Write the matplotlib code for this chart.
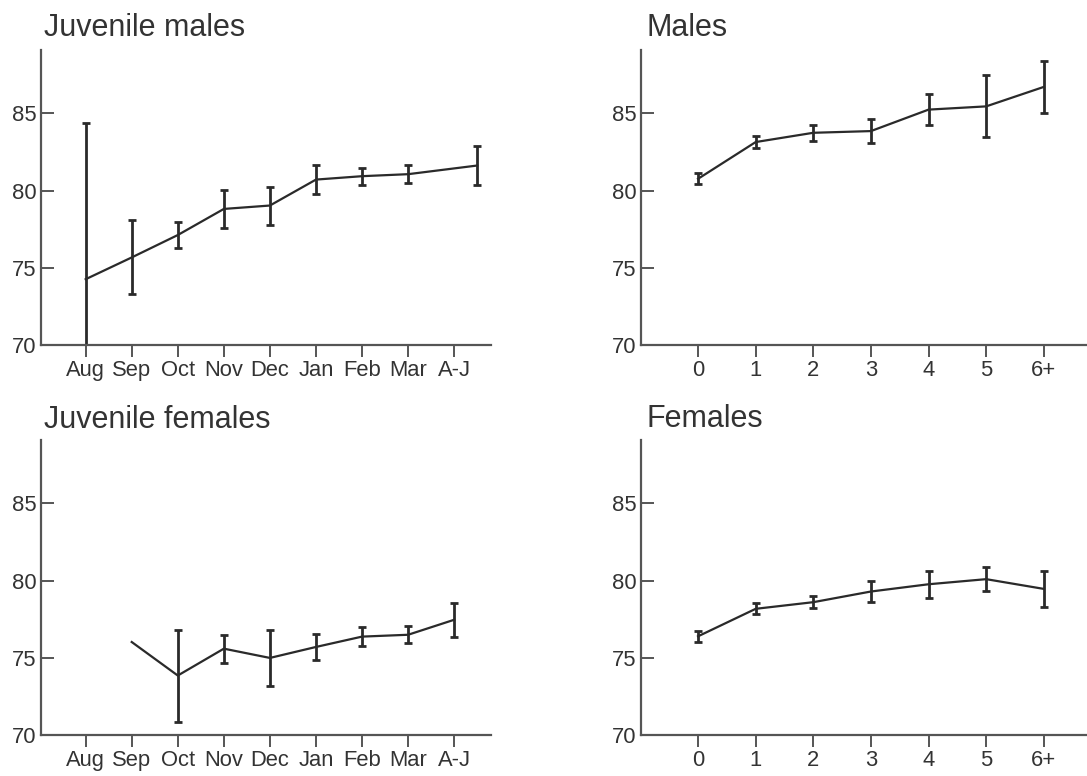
import numpy as np
import matplotlib
matplotlib.use('Agg')
from matplotlib import pyplot as plt

plt.rcParams['font.family'] = ['Liberation Sans', 'DejaVu Sans']

# Datos
months = ['Aug', 'Sep', 'Oct', 'Nov', 'Dec', 'Jan', 'Feb', 'Mar', 'A-J']
ages = ['0', '1', '2', '3', '4', '5', '6+']

juv_males_mean = [74.26, 75.67, 77.12, 78.81, 79.03, 80.71, 80.93, 81.06, 81.62]
juv_males_err = [10.1, 2.4, 0.87, 1.25, 1.23, 0.93, 0.55, 0.57, 1.25]

juv_females_mean = [np.nan, 76.02, 73.85, 75.59, 74.99, 75.70, 76.37, 76.49, 77.46]
juv_females_err = [np.nan, np.nan, 2.98, 0.91, 1.80, 0.86, 0.60, 0.54, 1.10]

males_mean = [80.76, 83.14, 83.74, 83.85, 85.24, 85.45, 86.71]
males_err = [0.35, 0.39, 0.52, 0.77, 0.98, 2.00, 1.67]

females_mean = [76.39, 78.17, 78.60, 79.29, 79.76, 80.09, 79.46]
females_err = [0.34, 0.36, 0.40, 0.70, 0.87, 0.78, 1.15]

AXIS_COLOR = '#555555'
LINE_COLOR = '#2a2a2a'
TEXT_COLOR = '#333333'


def panel(ax, labels, mean, err, xlim, last_shift=0.0):
    x = np.arange(len(labels), dtype=float)
    x[-1] += last_shift  # en "Juvenile males" el ultimo punto esta corrido
    mean = np.array(mean, dtype=float)
    err = np.array(err, dtype=float)

    ok = ~np.isnan(mean)
    ax.plot(x[ok], mean[ok], color=LINE_COLOR, lw=1.6)
    has_err = ok & ~np.isnan(err)
    ax.errorbar(x[has_err], mean[has_err], yerr=err[has_err], fmt='none',
                ecolor=LINE_COLOR, elinewidth=2.0, capsize=3.2, capthick=2.0)

    ax.set_xlim(*xlim)
    ax.set_ylim(70, 89.1)
    ax.set_yticks([70, 75, 80, 85])
    ax.set_xticks(np.arange(len(labels)))
    ax.set_xticklabels(labels)

    for s in ['top', 'right']:
        ax.spines[s].set_visible(False)
    for s in ['left', 'bottom']:
        ax.spines[s].set_color(AXIS_COLOR)
        ax.spines[s].set_linewidth(1.6)

    ax.tick_params(axis='y', direction='in', length=9.5, width=1.4,
                   color=AXIS_COLOR, labelsize=15.8, labelcolor=TEXT_COLOR, pad=3)
    ax.tick_params(axis='x', direction='out', length=8.5, width=1.4,
                   color=AXIS_COLOR, labelsize=15.8, labelcolor=TEXT_COLOR, pad=2.5)


fig = plt.figure(figsize=(10.87, 7.76), dpi=100)

ax1 = fig.add_axes([41 / 1087, 1 - 345 / 776, 450 / 1087, 295 / 776])
ax2 = fig.add_axes([641 / 1087, 1 - 345 / 776, 446 / 1087, 295 / 776])
ax3 = fig.add_axes([41 / 1087, 1 - 735 / 776, 450 / 1087, 295 / 776])
ax4 = fig.add_axes([641 / 1087, 1 - 735 / 776, 446 / 1087, 295 / 776])

panel(ax1, months, juv_males_mean, juv_males_err, (-0.97, 8.8), last_shift=0.5)
panel(ax2, ages, males_mean, males_err, (-0.99, 6.75))
panel(ax3, months, juv_females_mean, juv_females_err, (-0.97, 8.8))
panel(ax4, ages, females_mean, females_err, (-0.99, 6.75))

fig.text(44 / 1087, 1 - 36 / 776, 'Juvenile males', fontsize=22, color=TEXT_COLOR, va='baseline')
fig.text(646 / 1087, 1 - 36 / 776, 'Males', fontsize=22, color=TEXT_COLOR, va='baseline')
fig.text(44 / 1087, 1 - 428 / 776, 'Juvenile females', fontsize=22, color=TEXT_COLOR, va='baseline')
fig.text(646 / 1087, 1 - 427 / 776, 'Females', fontsize=22, color=TEXT_COLOR, va='baseline')

fig.savefig('out.png', dpi=100)
